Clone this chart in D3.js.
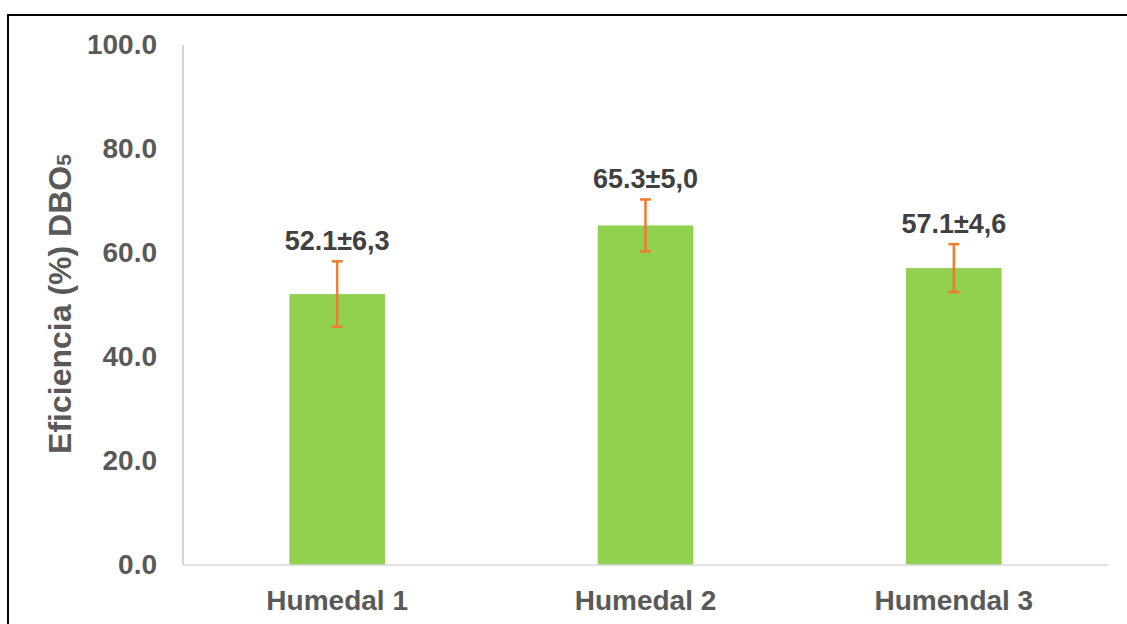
<!DOCTYPE html>
<html><head><meta charset="utf-8">
<script src="https://cdn.jsdelivr.net/npm/d3@7"></script>
<style>body{margin:0;background:#fff}svg{display:block;font-family:Arial,"Liberation Sans",sans-serif}</style>
</head><body><svg id="c" width="1127" height="624"></svg>
<script>
const categories = ["Humedal 1", "Humedal 2", "Humendal 3"];
const values = [52.1, 65.3, 57.1];
const errors = [6.3, 5.0, 4.6];
const labels = ["52.1±6,3", "65.3±5,0", "57.1±4,6"];
const yTicks = [0, 20, 40, 60, 80, 100];

const FONT = "Arial,'Liberation Sans',sans-serif";
const svg = d3.select("#c");
svg.append("rect").attr("x", 8).attr("y", 15).attr("width", 1140).attr("height", 640)
  .attr("fill", "#fff").attr("stroke", "#000").attr("stroke-width", 2);

const L = 183, R = 1108, T = 45, B = 565;
const x = d3.scaleBand().domain(categories).range([L, R]).paddingInner(0.69).paddingOuter(0.345);
const y = d3.scaleLinear().domain([0, 100]).range([B, T]);

// y axis line
svg.append("line").attr("x1", L).attr("x2", L).attr("y1", T).attr("y2", B).attr("stroke", "#bfbfbf").attr("stroke-width", 1.3);

const yAxis = svg.append("g").attr("transform", `translate(${L},0)`)
  .call(d3.axisLeft(y).tickValues(yTicks).tickFormat(d3.format(".1f")).tickSize(0).tickPadding(26));
yAxis.select(".domain").remove();
yAxis.selectAll("text").attr("font-size", 28).attr("font-weight", "bold").attr("fill", "#595959")
  .attr("font-family", FONT);

// bars
svg.selectAll("rect.bar").data(values).join("rect").attr("class", "bar")
  .attr("x", (d, i) => x(categories[i])).attr("width", x.bandwidth())
  .attr("y", d => y(d)).attr("height", d => y(0) - y(d)).attr("fill", "#92D050");

// x axis line
svg.append("line").attr("x1", L).attr("x2", R).attr("y1", B).attr("y2", B).attr("stroke", "#d9d9d9").attr("stroke-width", 1.3);

const xAxis = svg.append("g").attr("transform", `translate(0,${B})`)
  .call(d3.axisBottom(x).tickSize(0).tickPadding(25));
xAxis.select(".domain").remove();
xAxis.selectAll("text").attr("font-size", 28).attr("font-weight", "bold").attr("fill", "#595959")
  .attr("font-family", FONT);

// error bars
const eb = svg.append("g").attr("stroke", "#ED7D31").attr("stroke-width", 2.5);
values.forEach((v, i) => {
  const cx = x(categories[i]) + x.bandwidth() / 2;
  eb.append("line").attr("x1", cx).attr("x2", cx).attr("y1", y(v + errors[i])).attr("y2", y(v - errors[i]));
  [v + errors[i], v - errors[i]].forEach(e => {
    eb.append("line").attr("x1", cx - 5.5).attr("x2", cx + 5.5).attr("y1", y(e)).attr("y2", y(e));
  });
});

// data labels
svg.selectAll("text.lbl").data(values).join("text").attr("class", "lbl")
  .attr("x", (d, i) => x(categories[i]) + x.bandwidth() / 2)
  .attr("y", (d, i) => y(d + errors[i]) - 11)
  .attr("text-anchor", "middle").attr("font-size", 27).attr("font-weight", "bold").attr("fill", "#404040")
  .attr("font-family", FONT)
  .text((d, i) => labels[i]);

// y title
const yt = svg.append("text").attr("transform", `translate(71,${(T + B) / 2 - 1}) rotate(-90)`)
  .attr("text-anchor", "middle").attr("font-size", 32).attr("font-weight", "bold").attr("fill", "#595959")
  .attr("font-family", FONT);
yt.append("tspan").text("Eficiencia (%) DBO");
yt.append("tspan").attr("font-size", 21).text("5");
</script></body></html>
